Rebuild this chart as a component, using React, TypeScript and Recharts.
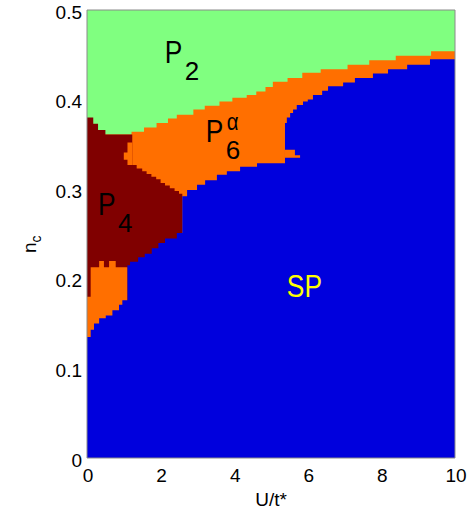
import React from 'react';
import { AreaChart, Area, XAxis, YAxis, ReferenceDot, ReferenceArea, Label } from 'recharts';

const FONT = '"Liberation Sans", Arial, Helvetica, sans-serif';

const U_TICKS = [0, 2, 4, 6, 8, 10];
const NC_TICKS = [0, 0.1, 0.2, 0.3, 0.4, 0.5];
const NC_MAX = 0.5;

// Each entry: [U/t* where the step begins, n_c of the boundary]; last entry = end of region
const p2Lower: [number, number][] = [
  [0, 0.361], [1.21, 0.364], [1.55, 0.369], [1.89, 0.374], [2.2, 0.379], [2.44, 0.383],
  [2.89, 0.389], [3.2, 0.393], [3.6, 0.398], [3.95, 0.402], [4.34, 0.405], [4.6, 0.409],
  [4.85, 0.414], [5.05, 0.42], [5.45, 0.424], [5.85, 0.43], [6.35, 0.434], [7.08, 0.439],
  [7.67, 0.444], [8.39, 0.449], [9.35, 0.454], [10, 0.454],
];

const p4Top: [number, number][] = [
  [0, 0.38], [0.17, 0.373], [0.3, 0.366], [0.5, 0.361], [1.23, 0.327], [1.35, 0.323],
  [1.5, 0.32], [1.62, 0.317], [1.75, 0.314], [1.88, 0.311], [2.0, 0.307], [2.12, 0.304],
  [2.25, 0.301], [2.38, 0.298], [2.5, 0.295], [2.59, 0.295],
];

const p6LowTop: [number, number][] = [
  [0, 0.18], [0.1, 0.213], [0.33, 0.22], [0.46, 0.213], [0.6, 0.22], [0.78, 0.213], [1.1, 0.213],
];

const p6Lobe: [number, [number, number]][] = [
  [1.0, [0.333, 0.341]], [1.1, [0.327, 0.352]], [1.23, [0.327, 0.352]],
];

const spTop: [number, number][] = [
  [0, 0.135], [0.1, 0.143], [0.19, 0.15], [0.33, 0.156], [0.51, 0.159], [0.69, 0.165],
  [0.87, 0.171], [0.96, 0.176], [1.1, 0.215], [1.17, 0.219], [1.39, 0.224], [1.57, 0.228],
  [1.76, 0.234], [1.94, 0.24], [2.12, 0.245], [2.44, 0.251], [2.59, 0.292], [2.72, 0.299],
  [2.99, 0.305], [3.21, 0.31], [3.53, 0.316], [3.8, 0.32], [4.16, 0.325], [4.62, 0.329],
  [5.38, 0.374], [5.43, 0.38], [5.52, 0.385], [5.6, 0.389], [5.7, 0.394], [5.87, 0.398],
  [6.0, 0.4], [6.14, 0.405], [6.39, 0.41], [6.55, 0.415], [6.96, 0.419], [7.28, 0.424],
  [7.77, 0.429], [8.18, 0.434], [8.7, 0.439], [9.32, 0.445], [10, 0.445],
];

const p6Notch: [number, [number, number]][] = [
  [5.38, [0.335, 0.344]], [5.65, [0.335, 0.338]], [5.79, [0.335, 0.338]],
];

const phaseLabels = [
  { u: 2.11, n: 0.441, main: 'P', sub: '2', sup: '', color: '#000000' },
  { u: 3.23, n: 0.353, main: 'P', sub: '6', sup: 'α', color: '#000000' },
  { u: 0.3, n: 0.271, main: 'P', sub: '4', sup: '', color: '#000000' },
  { u: 5.43, n: 0.18, main: 'SP', sub: '', sup: '', color: '#FFFF00' },
];

const COLORS = {
  p2: '#80FF80',
  p6: '#FF6F00',
  p4: '#800000',
  sp: '#0000DD',
};

function stepAt<T>(steps: [number, T][], x: number): T | null {
  if (x < steps[0][0] - 1e-9 || x > steps[steps.length - 1][0] + 1e-9) return null;
  let v: T | null = null;
  for (const [x0, val] of steps) {
    if (x0 <= x + 1e-9) v = val;
  }
  return v;
}

const allX = Array.from(
  new Set([p2Lower, p4Top, p6LowTop, p6Lobe, spTop, p6Notch].flatMap((s: any[]) => s.map((p) => p[0])))
).sort((a, b) => a - b);

const rows = allX.map((x) => ({
  x,
  p2: stepAt([[0, NC_MAX], [10, NC_MAX]] as [number, number][], x),
  p6: stepAt(p2Lower, x),
  p4: stepAt(p4Top, x),
  p6low: stepAt(p6LowTop, x),
  lobe: stepAt(p6Lobe, x),
  sp: stepAt(spTop, x),
  notch: stepAt(p6Notch, x),
}));

const fmt = (v: number) => (v === 0 ? '0' : String(v));

const YTick = (props: any) => {
  const { x, y, payload } = props;
  return (
    <text x={x} y={y + 8.5} textAnchor="end" fontSize={19} fontFamily={FONT} fill="#000">
      {fmt(payload.value)}
    </text>
  );
};

const XTick = (props: any) => {
  const { x, y, payload } = props;
  return (
    <text x={x + 1} y={y + 24} textAnchor="middle" fontSize={19} fontFamily={FONT} fill="#000">
      {fmt(payload.value)}
    </text>
  );
};

const PhaseText = ({ cx, cy, item }: any) => {
  const sx = 0.85;
  return (
    <g>
      <text transform={`translate(${cx},${cy}) scale(${sx},1)`} fontSize={31} fontFamily={FONT} fill={item.color}>
        {item.main}
      </text>
      {item.sub && (
        <text transform={`translate(${cx + 20},${cy + 17})`} fontSize={26} fontFamily={FONT} fill={item.color}>
          <tspan transform={`scale(${sx},1)`}>{item.sub}</tspan>
        </text>
      )}
      {item.sup && (
        <text transform={`translate(${cx + 21},${cy - 11.5}) scale(${sx},1)`} fontSize={24} fontFamily={FONT} fill={item.color}>
          {item.sup}
        </text>
      )}
    </g>
  );
};

export default function App() {
  return (
    <div style={{ position: 'absolute', left: 0, top: 0 }}>
      <AreaChart width={473} height={514} data={rows} margin={{ top: 10, right: 18, bottom: 0, left: 0 }}>
        <XAxis
          dataKey="x"
          type="number"
          domain={[0, 10]}
          ticks={U_TICKS}
          axisLine={false}
          tickLine={false}
          tickSize={0}
          tickMargin={0}
          height={56}
          tick={<XTick />}
          allowDataOverflow
          label={
            <Label
              content={(p: any) => {
                const vb = p.viewBox || { x: 87, y: 458, width: 368 };
                return (
                  <text x={vb.x + vb.width / 2} y={vb.y + 48} textAnchor="middle" fontSize={19} fontFamily={FONT} fill="#000">
                    U/t*
                  </text>
                );
              }}
            />
          }
        />
        <YAxis
          type="number"
          domain={[0, NC_MAX]}
          ticks={NC_TICKS}
          axisLine={false}
          tickLine={false}
          tickSize={0}
          tickMargin={5}
          width={87}
          tick={<YTick />}
          allowDataOverflow
          label={
            <Label
              content={(p: any) => {
                const vb = p.viewBox || { x: 0, y: 10, width: 87, height: 448 };
                const cy = vb.y + vb.height / 2 + 19;
                return (
                  <text transform={`translate(${vb.x + 36},${cy}) rotate(-90)`} fontSize={19} fontFamily={FONT} fill="#000">
                    n
                    <tspan dy={5} fontSize={14}>c</tspan>
                  </text>
                );
              }}
            />
          }
        />
        <Area dataKey="p2" type="stepAfter" fill={COLORS.p2} fillOpacity={1} stroke="none" isAnimationActive={false} dot={false} activeDot={false} />
        <Area dataKey="p6" type="stepAfter" fill={COLORS.p6} fillOpacity={1} stroke="none" isAnimationActive={false} dot={false} activeDot={false} />
        <Area dataKey="p4" type="stepAfter" fill={COLORS.p4} fillOpacity={1} stroke="none" isAnimationActive={false} dot={false} activeDot={false} />
        <Area dataKey="p6low" type="stepAfter" fill={COLORS.p6} fillOpacity={1} stroke="none" isAnimationActive={false} dot={false} activeDot={false} />
        <Area dataKey="lobe" type="stepAfter" fill={COLORS.p6} fillOpacity={1} stroke="none" isAnimationActive={false} dot={false} activeDot={false} />
        <Area dataKey="sp" type="stepAfter" fill={COLORS.sp} fillOpacity={1} stroke="none" isAnimationActive={false} dot={false} activeDot={false} />
        <Area dataKey="notch" type="stepAfter" fill={COLORS.p6} fillOpacity={1} stroke="none" isAnimationActive={false} dot={false} activeDot={false} />
        <ReferenceArea x1={0} x2={10} y1={0} y2={NC_MAX} fill="none" fillOpacity={0} stroke="#8a8a8a" strokeWidth={1} />
        {phaseLabels.map((item) => (
          <ReferenceDot
            key={item.main + item.sub}
            x={item.u}
            y={item.n}
            r={0}
            shape={(p: any) => <PhaseText cx={p.cx} cy={p.cy} item={item} />}
          />
        ))}
      </AreaChart>
    </div>
  );
}
